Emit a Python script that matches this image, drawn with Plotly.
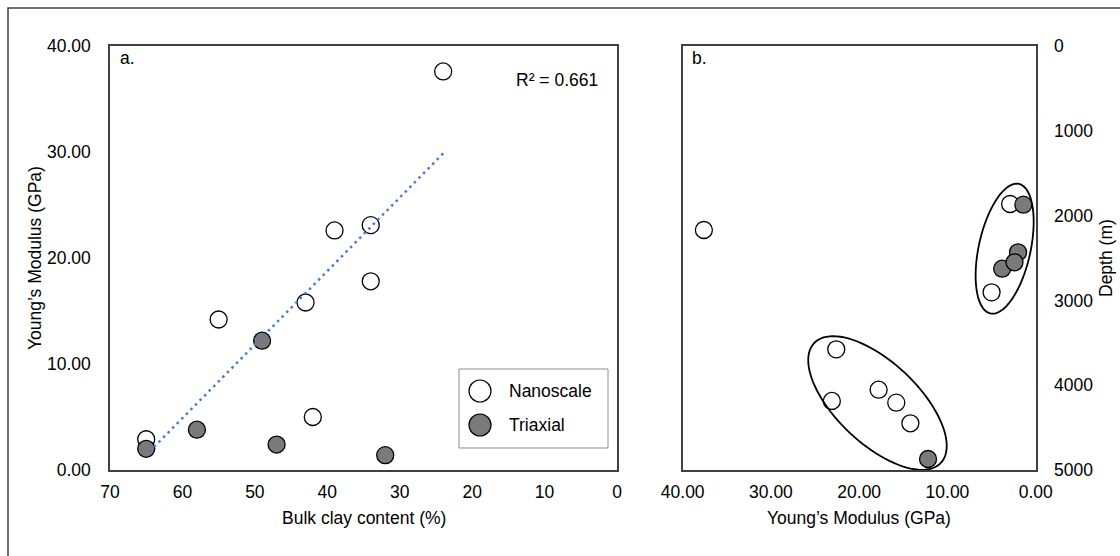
import numpy as np
import plotly.graph_objects as go

# Nanoscale (indentation) measurements
nano_clay = [24, 39, 34, 34, 43, 55, 42, 65]
nano_E = [37.6, 22.6, 23.1, 17.8, 15.8, 14.2, 5.0, 2.9]
nano_depth = [2170, 3577, 4186, 4053, 4206, 4449, 2905, 1863]

# Triaxial test measurements
tri_clay = [65, 58, 49, 47, 32]
tri_E = [2.0, 3.8, 12.2, 2.4, 1.4]
tri_depth = [2433, 2626, 4870, 2551, 1871]

clay_ticks = [70, 60, 50, 40, 30, 20, 10, 0]
E_ticks = [0, 10, 20, 30, 40]
depth_ticks = [0, 1000, 2000, 3000, 4000, 5000]

r2_label = "R² = 0.661"

W, H = 1120, 556
FONT = "Liberation Sans, Arial, sans-serif"
FS = 17.5
FRAME = "#404040"
GREY = "#7a7a7a"


def px(x):
    return x / W


def py(y):
    return 1 - y / H


fig = go.Figure()

open_marker = dict(size=17, color="white", line=dict(color="black", width=1.3))
fill_marker = dict(size=17, color=GREY, line=dict(color="black", width=1.3))

# Panel a: modulus versus clay content
fig.add_trace(go.Scatter(x=nano_clay, y=nano_E, mode="markers", name="Nanoscale",
                         marker=open_marker, xaxis="x", yaxis="y", showlegend=False))
fig.add_trace(go.Scatter(x=tri_clay, y=tri_E, mode="markers", name="Triaxial",
                         marker=fill_marker, xaxis="x", yaxis="y", showlegend=False))

# Linear trend of the nanoscale series
slope, intercept = np.polyfit(nano_clay, nano_E, 1)
trend_x = np.array([min(nano_clay), max(nano_clay)], dtype=float)
trend_y = slope * trend_x + intercept
fig.add_trace(go.Scatter(x=trend_x, y=trend_y, mode="lines", name="Linear (Nanoscale)",
                         line=dict(color="#4A7AD0", width=2.5, dash="2.5px,4px"),
                         xaxis="x", yaxis="y", showlegend=False))

# Panel b: modulus versus depth
fig.add_trace(go.Scatter(x=nano_E, y=nano_depth, mode="markers", name="Nanoscale",
                         marker=open_marker, xaxis="x2", yaxis="y2", showlegend=False))
fig.add_trace(go.Scatter(x=tri_E, y=tri_depth, mode="markers", name="Triaxial",
                         marker=fill_marker, xaxis="x2", yaxis="y2", showlegend=False))

axis_common = dict(showline=True, mirror=True, linecolor=FRAME, linewidth=1.5,
                   showgrid=False, zeroline=False, ticks="", automargin=False,
                   tickfont=dict(family=FONT, size=FS, color="black"))

ydom = [py(470), py(46)]
fig.update_layout(
    template="none",
    width=W, height=H,
    margin=dict(l=0, r=0, t=0, b=0, pad=0, autoexpand=False),
    paper_bgcolor="white", plot_bgcolor="white",
    showlegend=False,
    xaxis=dict(domain=[px(110), px(617)], range=[70, 0], tickvals=clay_ticks,
               anchor="y", ticklabelstandoff=5, **axis_common),
    yaxis=dict(domain=ydom, range=[0, 40], tickvals=E_ticks, tickformat=".2f",
               anchor="x", ticklabelstandoff=14, **axis_common),
    xaxis2=dict(domain=[px(682.7), px(1035.7)], range=[40, 0], tickvals=E_ticks,
                tickformat=".2f", anchor="y2", ticklabelstandoff=5, **axis_common),
    yaxis2=dict(domain=ydom, range=[5000, 0], tickvals=depth_ticks, side="right",
                anchor="x2", ticklabelstandoff=13, **axis_common),
)


def ellipse_path(a, b, angle_deg, n=96):
    th = np.deg2rad(angle_deg)
    t = np.linspace(0, 2 * np.pi, n, endpoint=False)
    sx = a * np.cos(t) * np.cos(th) - b * np.sin(t) * np.sin(th)
    sy = a * np.cos(t) * np.sin(th) + b * np.sin(t) * np.cos(th)
    pts = [f"{x:.2f},{-y:.2f}" for x, y in zip(sx, sy)]
    return "M " + " L ".join(pts) + " Z"


# Groupings drawn round the shallow and deep clusters
groups = [
    dict(E=3.52, depth=2390, a=66.3, b=25.9, angle=-77.6),
    dict(E=17.93, depth=4210, a=87.2, b=40.7, angle=43.4),
]
shapes = []
for g in groups:
    shapes.append(dict(type="path", xref="x2", yref="y2",
                       xsizemode="pixel", ysizemode="pixel",
                       xanchor=g["E"], yanchor=g["depth"],
                       path=ellipse_path(g["a"], g["b"], g["angle"]),
                       line=dict(color="black", width=1.8), fillcolor="rgba(0,0,0,0)"))

# Outer frame of the figure
shapes.append(dict(type="rect", xref="paper", yref="paper",
                   x0=px(8), x1=1.05, y0=-0.05, y1=py(8),
                   line=dict(color=FRAME, width=1.5)))

# Legend box with its keys
shapes.append(dict(type="rect", xref="paper", yref="paper",
                   x0=px(459), x1=px(608), y0=py(448), y1=py(369),
                   line=dict(color="#8c8c8c", width=1), fillcolor="white"))
legend_items = [("Nanoscale", "white", 391), ("Triaxial", GREY, 425)]
for label, color, yk in legend_items:
    shapes.append(dict(type="circle", xref="paper", yref="paper",
                       xsizemode="pixel", ysizemode="pixel",
                       xanchor=px(480), yanchor=py(yk),
                       x0=-11, x1=11, y0=-11, y1=11,
                       fillcolor=color, line=dict(color="black", width=1.2)))

fig.update_layout(shapes=shapes)

ann = []


def text(s, x, y, xanchor="center", angle=0):
    ann.append(dict(text=s, x=px(x), y=py(y), xref="paper", yref="paper",
                    xanchor=xanchor, yanchor="middle", showarrow=False,
                    textangle=angle, font=dict(family=FONT, size=FS, color="black")))


for label, color, yk in legend_items:
    text(label, 507, yk, xanchor="left")

text("a.", 118, 58, xanchor="left")
text("b.", 690, 58, xanchor="left")
text(r2_label, 600, 80, xanchor="right")
text("Bulk clay content (%)", 363.5, 518)
text("Young’s Modulus (GPa)", 35, 258, angle=-90)
text("Young’s Modulus (GPa)", 859, 518)
text("Depth (m)", 1106, 258, angle=-90)

fig.update_layout(annotations=ann)

fig.write_html("out.html")
